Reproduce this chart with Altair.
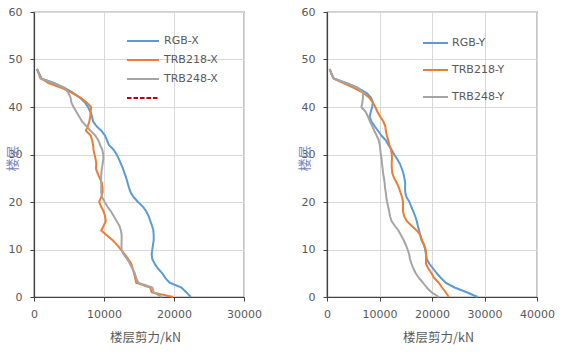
import altair as alt
import pandas as pd

FLOORS = list(range(49))

RGB_X = [22400, 21760, 21050, 19380, 18760, 18330, 17700, 17240, 16900, 16810, 16900, 17000, 17100, 17100, 17050, 16860, 16620, 16380, 16050, 15570, 14860, 14240, 13810, 13570, 13380, 13190, 12950, 12710, 12430, 12140, 11810, 11380, 10710, 10430, 10140, 9620, 8900, 8430, 8290, 8050, 7710, 7240, 6520, 5570, 4380, 2950, 1050, 740, 430]
TRB218_X = [19860, 16800, 16600, 14600, 14450, 14300, 14100, 13900, 13450, 12950, 12400, 11850, 11200, 10400, 9600, 9950, 10250, 10150, 9950, 9600, 9300, 9600, 9800, 9800, 9700, 9400, 9100, 8850, 8900, 8800, 8650, 8500, 8450, 8300, 8100, 7400, 7700, 7900, 8050, 8100, 8150, 7500, 6600, 5400, 4000, 2100, 1050, 740, 430]
TRB248_X = [18300, 17100, 16900, 14900, 14600, 14400, 14050, 13700, 13300, 12800, 12500, 12500, 12520, 12520, 12420, 12200, 11800, 11400, 11000, 10500, 10100, 9750, 9600, 9600, 9600, 9580, 9620, 9700, 9800, 9900, 9900, 9750, 9450, 9190, 8750, 8100, 7450, 6850, 6450, 6050, 5650, 5330, 5220, 4900, 4400, 2800, 900, 660, 430]

RGB_Y = [28700, 26600, 24300, 22600, 21700, 20900, 20200, 19500, 19000, 18850, 18700, 18450, 18000, 17750, 17550, 17300, 17100, 16800, 16450, 16050, 15700, 15150, 14900, 14880, 14900, 14750, 14550, 14250, 13900, 13400, 12800, 12300, 11700, 11200, 10350, 9700, 9050, 8450, 8130, 8350, 8600, 8750, 8350, 7500, 5900, 3800, 1250, 850, 510]
TRB218_Y = [23200, 22600, 21900, 21300, 20400, 19900, 19300, 18850, 18850, 18900, 18800, 18500, 18050, 17800, 17100, 16100, 15200, 14700, 14480, 14480, 14480, 14300, 14000, 13700, 13300, 12800, 12450, 12350, 12320, 12370, 12350, 12200, 11900, 11650, 11400, 11200, 11100, 10700, 10100, 9600, 9200, 8700, 8000, 6900, 5200, 3200, 1300, 850, 510]
TRB248_Y = [21300, 19900, 19000, 18300, 17500, 16900, 16450, 16100, 15800, 15650, 15350, 15000, 14600, 14100, 13600, 12900, 12300, 12000, 11850, 11650, 11450, 11300, 11200, 11050, 10980, 10850, 10700, 10600, 10480, 10400, 10250, 10150, 10050, 9850, 9450, 9000, 8600, 8150, 7800, 7350, 6550, 6750, 6850, 6850, 5900, 3700, 1300, 850, 510]

LEFT_SERIES = ["RGB-X", "TRB218-X", "TRB248-X", " "]
RIGHT_SERIES = ["RGB-Y", "TRB218-Y", "TRB248-Y"]
LEFT_COLORS = ["#5B9BD5", "#ED7D31", "#A5A5A5", "#C00000"]
RIGHT_COLORS = ["#5B9BD5", "#ED7D31", "#A5A5A5"]
LEFT_DASHES = [[1, 0], [1, 0], [1, 0], [4.5, 2]]
LEFT_XTICKS = [0, 10000, 20000, 30000]
RIGHT_XTICKS = [0, 10000, 20000, 30000, 40000]
Y_TICKS = [0, 10, 20, 30, 40, 50, 60]

X_TITLE = "楼层剪力/kN"
Y_TITLE = "楼层"

NUM_FONT = "DejaVu Sans"
CJK_FONT = "Noto Sans CJK SC"
TXT = "#595959"


def long_df(names, arrays):
    rows = []
    for name, vals in zip(names, arrays):
        for f, v in zip(FLOORS, vals):
            rows.append({"series": name, "floor": f, "shear": v})
    return pd.DataFrame(rows)


def axes(xmax, xticks, ytitle_x):
    x = alt.X(
        "shear:Q",
        scale=alt.Scale(domain=[0, xmax], nice=False),
        axis=alt.Axis(
            values=xticks, format="d", labelFlush=False, title=X_TITLE,
            titleX=111, titleY=40, titleAlign="center", titleBaseline="middle",
        ),
    )
    y = alt.Y(
        "floor:Q",
        scale=alt.Scale(domain=[0, 60], nice=False),
        axis=alt.Axis(
            values=Y_TICKS, format="d", title=Y_TITLE, titleAngle=-90, titleX=ytitle_x,
            titleY=146, titleAlign="center", titleBaseline="middle",
            titleColor="#7b86c2", titleFontSize=13,
        ),
    )
    return x, y


left_df = long_df(LEFT_SERIES[:3], [RGB_X, TRB218_X, TRB248_X])
right_df = long_df(RIGHT_SERIES, [RGB_Y, TRB218_Y, TRB248_Y])

left_legend = alt.Legend(
    title=None, orient="none", legendX=92, legendY=23,
    symbolType="M-1,0H5.4", symbolSize=100, symbolStrokeWidth=2,
    labelOffset=26, rowPadding=8,
)
right_legend = alt.Legend(
    title=None, orient="none", legendX=95, legendY=25,
    symbolType="M-1,0H4", symbolSize=100, symbolStrokeWidth=2,
    labelOffset=18, rowPadding=16,
)

lx, ly = axes(30000, LEFT_XTICKS, -22)
left = alt.Chart(left_df).mark_line(strokeWidth=2, strokeJoin="round").encode(
    x=lx, y=ly,
    color=alt.Color("series:N", scale=alt.Scale(domain=LEFT_SERIES, range=LEFT_COLORS), legend=left_legend),
    strokeDash=alt.StrokeDash("series:N", scale=alt.Scale(domain=LEFT_SERIES, range=LEFT_DASHES), legend=left_legend),
    order=alt.Order("floor:Q"),
).properties(width=210, height=285)

rx, ry = axes(40000, RIGHT_XTICKS, -23)
right = alt.Chart(right_df).mark_line(strokeWidth=2, strokeJoin="round").encode(
    x=rx, y=ry,
    color=alt.Color("series:N", scale=alt.Scale(domain=RIGHT_SERIES, range=RIGHT_COLORS), legend=right_legend),
    order=alt.Order("floor:Q"),
).properties(width=210, height=285)

chart = alt.hconcat(left, right, spacing=83, bounds="flush").resolve_scale(
    color="independent", strokeDash="independent"
).resolve_legend(color="independent", strokeDash="independent").properties(
    padding={"left": 5, "top": 5, "right": 4, "bottom": 5},
    background="white",
).configure_view(
    stroke="#404040", strokeWidth=1.2,
).configure_axis(
    gridColor="#d9d9d9", gridWidth=1,
    domainColor="#404040", domainWidth=1.2,
    tickColor="#404040", tickSize=4,
    labelFont=NUM_FONT, labelFontSize=11, labelColor=TXT, labelPadding=8,
    titleFont=CJK_FONT, titleFontSize=12.5, titleColor=TXT, titleFontWeight="normal",
).configure_axisX(labelPadding=7).configure_legend(
    labelFont=NUM_FONT, labelFontSize=11, labelColor=TXT,
)

chart.save("out.html", embed_options={"renderer": "svg", "actions": False})
